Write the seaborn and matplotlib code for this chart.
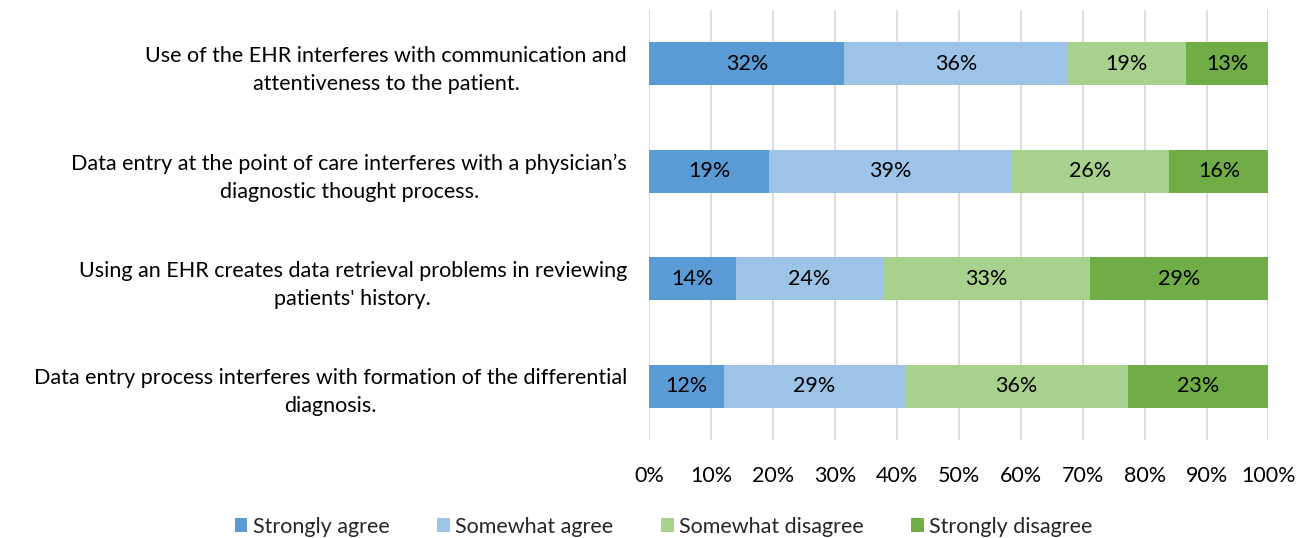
import matplotlib
matplotlib.use("Agg")
import matplotlib.pyplot as plt
import seaborn as sns
import pandas as pd
import numpy as np
from matplotlib.patches import Patch

# Survey statements (top to bottom)
statements = [
    "Use of the EHR interferes with communication and\nattentiveness to the patient.",
    "Data entry at the point of care interferes with a physician\u2019s\ndiagnostic thought process.",
    "Using an EHR creates data retrieval problems in reviewing\npatients' history.",
    "Data entry process interferes with formation of the differential\ndiagnosis.",
]
responses = ["Strongly agree", "Somewhat agree", "Somewhat disagree", "Strongly disagree"]

strongly_agree = [31.5, 19.3, 14.0, 12.1]
somewhat_agree = [36.0, 39.1, 23.7, 29.2]
somewhat_disagree = [19.2, 25.6, 33.5, 36.0]
strongly_disagree = [13.3, 16.0, 28.8, 22.7]

label_texts = [
    ["32%", "19%", "14%", "12%"],
    ["36%", "39%", "24%", "29%"],
    ["19%", "26%", "33%", "36%"],
    ["13%", "16%", "29%", "23%"],
]

colors = ["#5B9BD5", "#9DC3E6", "#A9D18E", "#70AD47"]

sns.set_theme(style="white")
plt.rcParams["font.family"] = ["Lato", "DejaVu Sans"]
FS = 15.5

df = pd.DataFrame({
    "Statement": statements,
    responses[0]: strongly_agree,
    responses[1]: somewhat_agree,
    responses[2]: somewhat_disagree,
    responses[3]: strongly_disagree,
})
cum = df[responses].cumsum(axis=1)

fig = plt.figure(figsize=(13.09, 5.38), dpi=100)
ax = fig.add_axes([0.496, 0.182, 0.473, 0.799])

# draw cumulative bars from the widest to the narrowest so they stack
for resp, col in reversed(list(zip(responses, colors))):
    sns.barplot(x=cum[resp], y=df["Statement"], orient="h", color=col,
                width=0.4, ax=ax, saturation=1, linewidth=0, zorder=2)

# segment labels
for i, resp in enumerate(responses):
    centers = cum[resp] - df[resp] / 2
    for j, c in enumerate(centers):
        ax.text(c, j, label_texts[i][j], ha="center", va="center",
                fontsize=FS, color="#000000", zorder=3)

ax.set_xlim(0, 100)
ax.set_ylim(3.5, -0.5)
ax.set_xticks(np.arange(0, 101, 10))
ax.set_xticklabels([f"{t}%" for t in range(0, 101, 10)], fontsize=FS, color="#000000")
ax.tick_params(axis="x", length=0, pad=19)
ax.tick_params(axis="y", length=0, pad=16)
for lab in ax.get_yticklabels():
    lab.set_fontsize(FS)
    lab.set_horizontalalignment("right")
    lab.set_multialignment("center")
    lab.set_linespacing(1.5)
    lab.set_color("#000000")

ax.set_xlabel("")
ax.set_ylabel("")
ax.grid(axis="x", color="#D9D9D9", linewidth=1.3, zorder=0)
ax.grid(axis="y", visible=False)
ax.set_axisbelow(True)
for s in ax.spines.values():
    s.set_visible(False)

handles = [Patch(facecolor=c, edgecolor="none") for c in colors]
fig.legend(handles, responses, loc="lower center", bbox_to_anchor=(0.507, -0.034),
           ncol=4, frameon=False, fontsize=FS, handlelength=0.6, handleheight=0.6,
           handletextpad=0.25, columnspacing=2.2)

fig.savefig("out.png", dpi=100)
